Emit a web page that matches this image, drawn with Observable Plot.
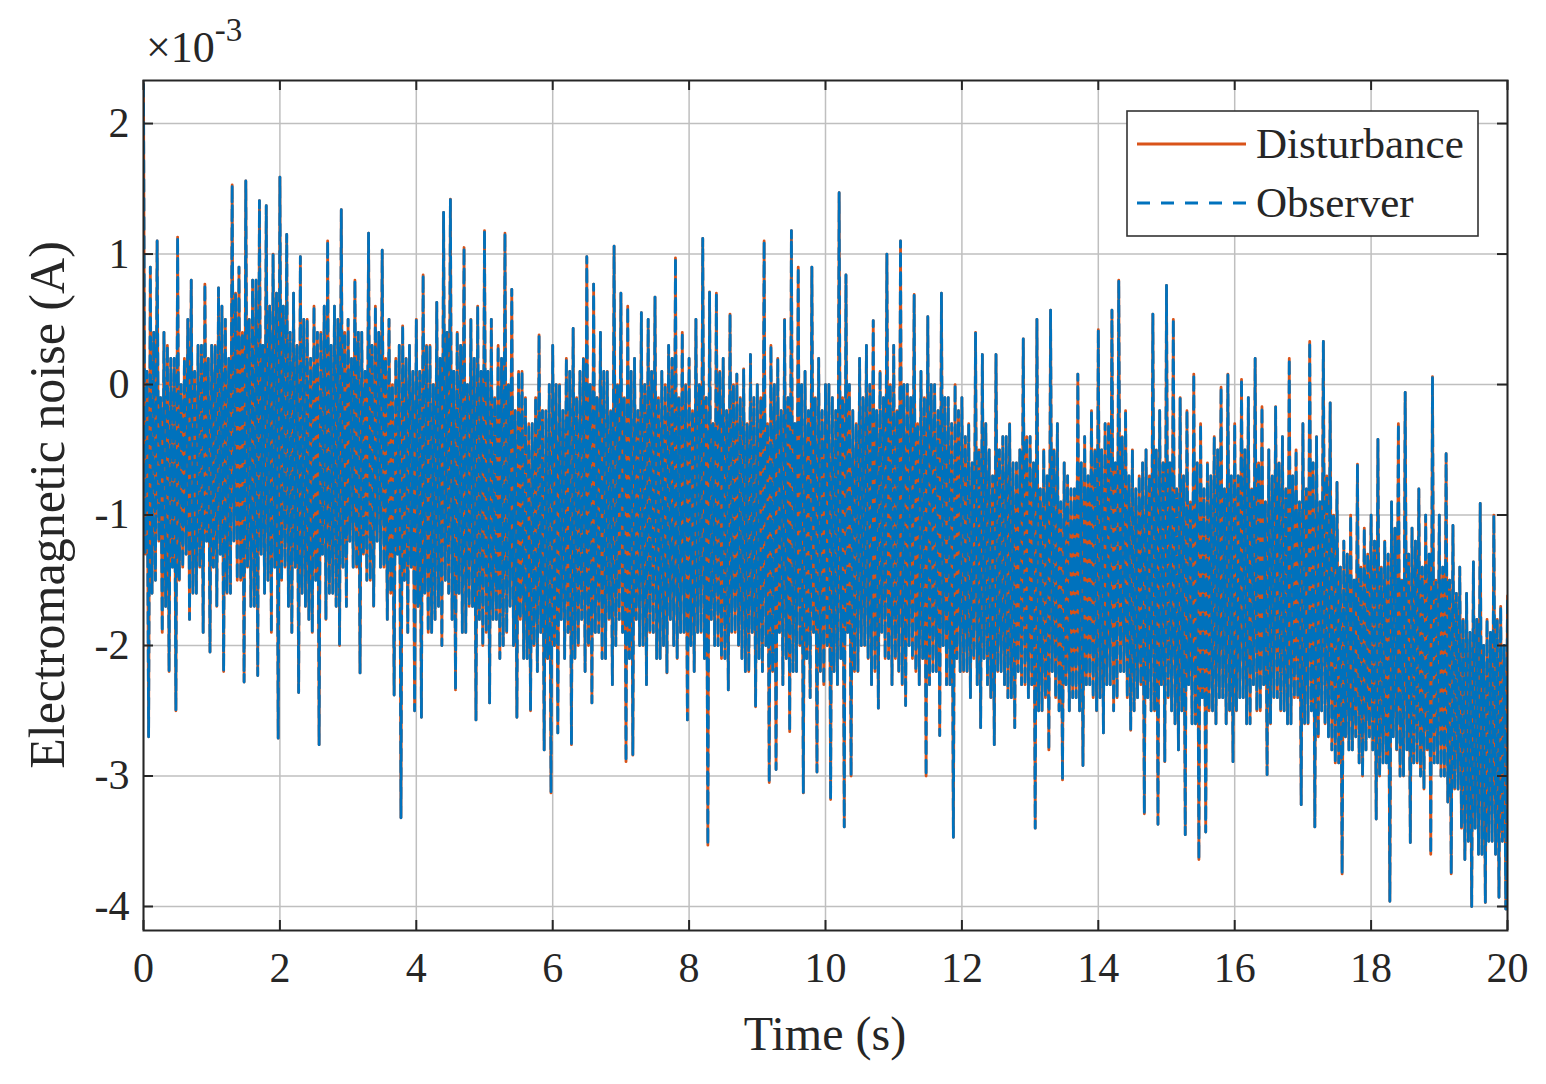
<!DOCTYPE html>
<html>
<head>
<meta charset="utf-8">
<script src="https://cdn.jsdelivr.net/npm/d3@7"></script>
<script src="https://cdn.jsdelivr.net/npm/@observablehq/plot@0.6"></script>
<style>
html, body { margin: 0; padding: 0; background: #ffffff; }
#chart { position: relative; width: 1546px; height: 1084px; }
</style>
</head>
<body>
<div id="chart"></div>
<script>
// ---- tick values ----
const xTicks = [0, 2, 4, 6, 8, 10, 12, 14, 16, 18, 20];
const yTicks = [-4, -3, -2, -1, 0, 1, 2];

// ---- signal (×10^-3 A), one sample every 0.025 s (one row per second) ----
const dt = 0.025;
const sig00_05 = [
  2.3,-1.3,0.1,-2.7, 0.9,-1.6,0.4,-1.5, 1.1,-1.2,-0.1,-1.9, 0.4,-1.7,0.3,-2.2, 0.2,-1.4,0.2,-2.5, 1.13,-1.5,0.0,-1.4, 0.2,-1.3,0.5,-1.8, 0.8,-1.6,0.1,-1.6, 0.3,-1.4,0.3,-1.9, 0.77,-1.2,0.2,-2.05,
  0.3,-1.4,0.3,-1.7, 0.74,-1.3,0.6,-2.2, 0.5,-1.6,0.2,-1.6, 1.53,-1.2,0.7,-1.5, 0.9,-1.5,0.4,-2.28, 1.56,-1.4,0.5,-1.7, 0.8,-1.7,0.8,-2.23, 1.41,-1.3,0.3,-1.6, 1.37,-1.5,0.6,-1.9, 1.0,-1.4,0.7,-2.71,
  1.59,-1.5,0.6,-1.4, 1.15,-1.7,0.4,-1.9, 0.7,-1.4,0.3,-2.36, 0.98,-1.6,0.5,-1.7, 0.5,-1.8,0.2,-1.9, 0.6,-1.5,0.4,-2.76, 0.4,-1.3,0.6,-1.8, 1.1,-1.6,0.3,-1.6, 0.6,-1.7,0.5,-2.0, 1.34,-1.4,0.4,-1.7,
  0.5,-1.2,0.2,-1.4, 0.8,-1.4,0.4,-2.21, 0.4,-1.3,0.1,-1.5, 1.16,-1.5,0.3,-1.7, 0.6,-1.2,0.4,-1.4, 1.03,-1.4,0.2,-1.8, 0.5,-1.6,0.0,-2.38, 0.2,-1.3,0.3,-3.32, 0.45,-1.5,0.2,-1.9, 0.3,-1.4,0.1,-2.5,
  0.5,-1.7,0.1,-2.55, 0.84,-1.6,0.3,-1.9, 0.3,-1.9,0.0,-1.8, 0.63,-1.7,0.2,-2.0, 1.32,-1.5,0.4,-1.6, 1.42,-1.8,0.1,-2.34, 0.4,-1.6,0.3,-1.9, 1.05,-1.9,0.0,-1.7, 0.5,-1.7,0.2,-2.57, 0.6,-1.8,0.1,-2.0
];
const sig05_10 = [
  1.18,-1.9,0.1,-2.44, 0.5,-1.8,-0.1,-1.8, 0.3,-2.1,0.2,-2.0, 1.16,-1.9,0.0,-1.7, 0.73,-2.0,-0.2,-2.55, 0.1,-1.8,0.1,-2.1, -0.1,-2.1,-0.3,-2.5, -0.3,-2.0,-0.1,-2.2, 0.38,-1.9,-0.2,-2.8, -0.2,-2.1,0.0,-3.13,
  0.3,-2.0,0.0,-2.67, 0.0,-1.8,-0.2,-2.1, 0.2,-1.9,0.1,-2.76, 0.43,-2.1,-0.1,-2.0, 0.1,-1.8,0.2,-2.2, 0.98,-2.0,0.0,-2.44, 0.77,-1.9,-0.1,-1.9, 0.4,-2.1,0.1,-2.1, 0.1,-1.8,-0.2,-2.3, 1.06,-2.0,0.0,-1.8,
  0.7,-1.9,-0.1,-2.89, 0.6,-2.1,0.1,-2.84, 0.2,-1.8,-0.2,-2.0, 0.55,-2.0,0.0,-2.3, 0.5,-1.9,0.1,-1.9, 0.67,-2.1,-0.1,-2.1, 0.1,-2.0,0.0,-2.21, 0.3,-1.8,0.2,-2.0, 0.97,-2.1,-0.1,-1.9, 0.4,-1.9,0.0,-2.57,
  0.2,-2.0,-0.2,-2.2, 0.5,-1.9,0.0,-1.9, 1.12,-2.1,-0.1,-3.53, 0.71,-1.8,-0.3,-2.0, 0.7,-2.0,0.1,-2.1, 0.2,-2.1,-0.2,-2.34, 0.54,-1.9,0.0,-1.9, 0.08,-2.0,-0.1,-2.1, 0.12,-2.2,-0.3,-2.2, 0.23,-1.9,-0.1,-2.47,
  0.0,-2.1,-0.1,-2.2, 1.1,-2.0,-0.3,-3.05, 0.3,-2.2,0.0,-2.95, 0.2,-1.9,-0.2,-2.3, 0.5,-2.1,-0.1,-2.66, 1.18,-2.2,-0.3,-2.2, 0.9,-2.0,0.0,-3.13, 0.1,-2.1,-0.2,-2.4, 0.9,-1.9,-0.1,-2.97, 0.2,-2.2,-0.2,-2.3
];
const sig10_15 = [
  0.0,-2.0,0.0,-3.18, -0.1,-2.2,-0.2,-2.3, 1.47,-2.1,-0.1,-3.39, 0.84,-1.9,0.0,-3.0, -0.2,-2.2,-0.3,-2.2, 0.2,-2.0,-0.1,-2.0, 0.3,-2.1,0.0,-2.3, 0.49,-2.2,-0.2,-2.48, 0.1,-1.9,-0.1,-2.1, 1.0,-2.1,0.0,-2.3,
  0.3,-2.1,-0.2,-2.2, 1.1,-2.3,0.0,-2.46, 0.0,-2.0,-0.1,-2.1, 0.69,-2.2,-0.3,-2.3, 0.1,-2.1,-0.1,-3.0, 0.52,-2.3,0.0,-2.2, 0.0,-2.2,-0.2,-2.69, 0.7,-2.0,-0.1,-2.3, -0.1,-2.3,-0.3,-3.47, 0.0,-2.1,-0.2,-2.2,
  -0.1,-2.2,-0.4,-2.2, -0.3,-2.4,-0.6,-2.1, 0.4,-2.3,-0.5,-2.63, 0.23,-2.1,-0.3,-2.3, -0.5,-2.4,-0.7,-2.76, 0.23,-2.2,-0.5,-2.2, -0.4,-2.3,-0.4,-2.4, -0.3,-2.4,-0.6,-2.63, -0.6,-2.2,-0.5,-2.3, 0.35,-2.3,-0.4,-2.4,
  -0.4,-2.3,-0.6,-3.4, 0.5,-2.5,-0.8,-2.5, -0.5,-2.4,-0.7,-2.8, 0.57,-2.2,-0.5,-2.4, -0.3,-2.5,-0.9,-3.03, -0.6,-2.3,-0.7,-2.5, -0.8,-2.4,-0.8,-2.4, 0.08,-2.5,-0.6,-2.92, -0.4,-2.3,-0.7,-2.3, -0.2,-2.4,-0.5,-2.5,
  0.42,-2.4,-0.5,-2.67, -0.3,-2.3,-0.3,-2.3, 0.57,-2.5,-0.6,-2.4, 0.8,-2.2,-0.4,-2.2, -0.2,-2.4,-0.7,-2.65, -0.5,-2.5,-0.8,-2.4, -0.7,-2.3,-0.6,-3.29, -0.5,-2.4,-0.7,-2.5, 0.54,-2.5,-0.5,-3.37, -0.2,-2.3,-0.6,-2.89
];
const sig15_20 = [
  0.76,-2.4,-0.6,-2.5, 0.5,-2.6,-0.8,-2.8, -0.1,-2.5,-0.7,-3.45, -0.2,-2.3,-0.9,-2.6, 0.08,-2.6,-0.6,-3.64, -0.3,-2.4,-0.8,-3.43, -0.6,-2.5,-0.7,-2.5, -0.4,-2.6,-0.5,-2.4, -0.02,-2.4,-0.8,-2.6, 0.08,-2.5,-0.7,-2.89,
  -0.3,-2.5,-0.7,-2.4, 0.04,-2.4,-0.5,-2.6, -0.1,-2.6,-0.8,-2.3, 0.2,-2.5,-0.6,-2.5, -0.17,-2.3,-0.9,-2.99, -0.5,-2.6,-0.7,-2.4, -0.17,-2.4,-0.6,-2.5, -0.4,-2.5,-0.8,-2.6, 0.2,-2.6,-0.7,-2.4, -0.5,-2.4,-0.9,-3.22,
  -0.3,-2.6,-0.8,-2.6, 0.33,-2.5,-0.6,-3.39, -0.4,-2.7,-0.9,-2.5, 0.33,-2.6,-0.7,-2.7, -0.14,-2.8,-1.0,-2.9, -0.75,-2.9,-1.4,-3.75, -1.2,-2.7,-1.3,-2.8, -1.0,-2.8,-1.5,-2.7, -0.61,-2.9,-1.4,-3.0, -1.1,-2.8,-1.3,-2.7,
  -1.0,-2.8,-1.2,-3.33, -0.42,-3.0,-1.4,-2.9, -1.2,-2.9,-1.3,-3.96, -0.9,-2.7,-1.1,-2.8, -0.3,-3.0,-1.5,-3.0, -0.06,-2.8,-1.3,-3.51, -1.1,-2.9,-1.2,-2.9, -0.8,-3.0,-1.4,-3.1, -1.0,-2.8,-1.3,-3.6, 0.06,-2.9,-1.5,-2.9,
  -1.0,-3.0,-1.4,-3.0, -0.53,-3.2,-1.5,-3.75, -1.08,-3.1,-1.6,-3.1, -1.4,-3.4,-1.8,-3.64, -1.6,-3.5,-1.9,-4.0, -1.36,-3.4,-1.8,-3.6, -0.91,-3.6,-2.0,-3.97, -1.8,-3.5,-1.9,-3.5, -1.0,-3.6,-1.8,-3.93, -1.7,-3.5,-2.0,-4.02,
  -1.62
];
const disturbance = [].concat(sig00_05, sig05_10, sig10_15, sig15_20);
const observer = disturbance.slice();   // observer estimate overlays the disturbance

const seriesNames = ["Disturbance", "Observer"];
const colors = ["#D95319", "#0072BD"];

const rows = disturbance.map((d, i) => ({ t: +(i * dt).toFixed(3), d, o: observer[i] }));

// ---- layout ----
const W = 1546, H = 1084;
const mL = 143, mR = 39, mT = 80, mB = 154;
const yDomain = [-4.184, 2.33];
const xDomain = [0, 20];
const pxPerY = (H - mT - mB) / (yDomain[1] - yDomain[0]);
const pxPerX = (W - mL - mR) / (xDomain[1] - xDomain[0]);
const tY = 10 / pxPerY, tX = 10 / pxPerX;
const ink = "#262626";
const gridColor = "#bfbfbf";
const font = "'Liberation Serif', 'Times New Roman', serif";

const plot = Plot.plot({
  width: W, height: H,
  marginLeft: mL, marginRight: mR, marginTop: mT, marginBottom: mB,
  x: { domain: xDomain, label: null },
  y: { domain: yDomain, label: null },
  style: { fontFamily: font, fontSize: "42px", background: "#ffffff", color: ink },
  marks: [
    Plot.gridX(xTicks, { stroke: gridColor, strokeOpacity: 1, strokeWidth: 1.5 }),
    Plot.gridY(yTicks, { stroke: gridColor, strokeOpacity: 1, strokeWidth: 1.5 }),
    Plot.lineY(rows, { x: "t", y: "d", stroke: colors[0], strokeWidth: 2.8, clip: true }),
    Plot.lineY(rows, { x: "t", y: "o", stroke: colors[1], strokeWidth: 2.8, strokeDasharray: "12,7", clip: true }),
    // inward ticks on all four sides
    Plot.ruleX(xTicks, { x: d => d, y1: yDomain[0], y2: yDomain[0] + tY, stroke: ink, strokeWidth: 2 }),
    Plot.ruleX(xTicks, { x: d => d, y1: yDomain[1] - tY, y2: yDomain[1], stroke: ink, strokeWidth: 2 }),
    Plot.ruleY(yTicks, { y: d => d, x1: xDomain[0], x2: xDomain[0] + tX, stroke: ink, strokeWidth: 2 }),
    Plot.ruleY(yTicks, { y: d => d, x1: xDomain[1] - tX, x2: xDomain[1], stroke: ink, strokeWidth: 2 }),
    Plot.frame({ stroke: ink, strokeWidth: 2 }),
    Plot.axisX({ ticks: xTicks, tickSize: 0, tickPadding: 22, tickFormat: d => String(d), fontSize: 42, fill: ink }),
    Plot.axisY({ ticks: yTicks, tickSize: 0, tickPadding: 14, tickFormat: d => String(d), fontSize: 42, fill: ink })
  ]
});

document.getElementById("chart").appendChild(plot);
const svg = d3.select(plot);

// axis titles
svg.append("text")
  .attr("transform", `translate(64,${(mT + H - mB) / 2}) rotate(-90)`)
  .attr("text-anchor", "middle").attr("font-family", font).attr("font-size", 50).attr("fill", ink)
  .text("Electromagnetic noise (A)");
svg.append("text")
  .attr("x", (mL + W - mR) / 2).attr("y", 1050)
  .attr("text-anchor", "middle").attr("font-family", font).attr("font-size", 48).attr("fill", ink)
  .text("Time (s)");

// exponent label
const ex = svg.append("text").attr("x", 146).attr("y", 62).attr("text-anchor", "start")
  .attr("font-family", font).attr("font-size", 44).attr("fill", ink);
ex.append("tspan").text("×10");
ex.append("tspan").attr("dy", -21).attr("font-size", 33).text("-3");

// legend
const lg = svg.append("g");
lg.append("rect").attr("x", 1127).attr("y", 111).attr("width", 351).attr("height", 125)
  .attr("fill", "#ffffff").attr("stroke", "#333333").attr("stroke-width", 1.6);
const ly = [144, 203];
const dashes = [null, "13,11"];
seriesNames.forEach((name, i) => {
  const ln = lg.append("line").attr("x1", 1137).attr("x2", 1246).attr("y1", ly[i]).attr("y2", ly[i])
    .attr("stroke", colors[i]).attr("stroke-width", 3);
  if (dashes[i]) ln.attr("stroke-dasharray", dashes[i]);
  lg.append("text").attr("x", 1256).attr("y", ly[i] + 14).attr("text-anchor", "start")
    .attr("font-family", font).attr("font-size", 43).attr("fill", ink).text(name);
});
</script>
</body>
</html>
